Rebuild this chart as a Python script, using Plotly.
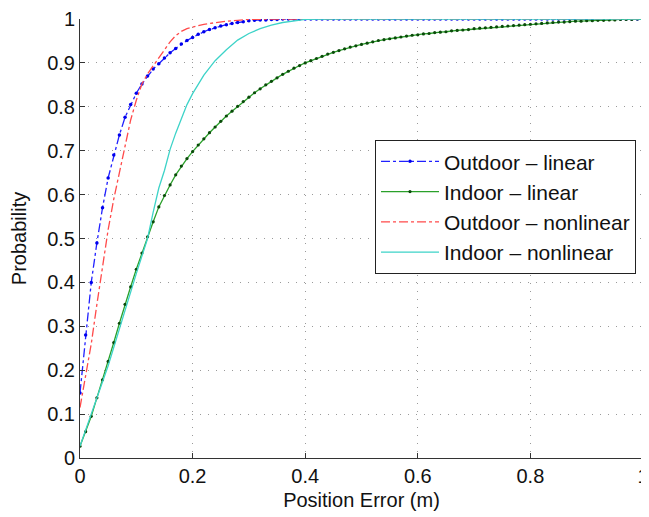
import plotly.graph_objects as go

# Outdoor - linear (sampled every 0.01 m)
outdoor_linear = [0.148, 0.28, 0.40, 0.49, 0.57, 0.638, 0.69, 0.736, 0.776, 0.805,
                  0.831, 0.852, 0.870, 0.886, 0.898, 0.911, 0.923, 0.933, 0.943, 0.951,
                  0.958, 0.965, 0.971, 0.976, 0.980, 0.984, 0.987, 0.990, 0.992, 0.994,
                  0.996, 0.997, 0.998, 0.998, 0.999, 0.999] + [1.0] * 65

# Indoor - linear (sampled every 0.01 m)
indoor_linear = [0.027, 0.06, 0.095, 0.137, 0.178, 0.22, 0.263, 0.307, 0.35, 0.39,
                 0.43, 0.467, 0.504, 0.538, 0.572, 0.598, 0.622, 0.645, 0.665, 0.682,
                 0.698, 0.713, 0.727, 0.741, 0.754, 0.767, 0.779, 0.790, 0.801, 0.812,
                 0.822, 0.832, 0.841, 0.850, 0.858, 0.866, 0.874, 0.881, 0.888, 0.894,
                 0.900, 0.905, 0.910, 0.915, 0.920, 0.924, 0.928, 0.932, 0.936, 0.939,
                 0.942, 0.945, 0.948, 0.951, 0.953, 0.955, 0.957, 0.959, 0.961, 0.963,
                 0.964, 0.966, 0.967, 0.969, 0.970, 0.971, 0.973, 0.974, 0.975, 0.976,
                 0.978, 0.979, 0.980, 0.981, 0.982, 0.983, 0.984, 0.985, 0.986, 0.987,
                 0.988, 0.989, 0.990, 0.991, 0.992, 0.993, 0.993, 0.994, 0.995, 0.995,
                 0.996, 0.996, 0.997, 0.997, 0.998, 0.998, 0.999, 0.999, 0.999, 1.0, 1.0]

grid_x = [round(i * 0.01, 2) for i in range(len(outdoor_linear))]
grid_x2 = [round(i * 0.01, 2) for i in range(len(indoor_linear))]

# Outdoor - nonlinear
on_x = [0.0, 0.01, 0.02, 0.03, 0.04, 0.05, 0.06, 0.07, 0.08, 0.09, 0.10, 0.11, 0.12,
        0.13, 0.14, 0.15, 0.16, 0.17, 0.18, 0.19, 0.20, 0.21, 0.22, 0.24, 0.26, 0.28,
        0.30, 0.35, 1.0]
on_y = [0.115, 0.19, 0.26, 0.35, 0.44, 0.52, 0.59, 0.65, 0.715, 0.77, 0.815, 0.852, 0.875,
        0.893, 0.91, 0.928, 0.948, 0.962, 0.972, 0.978, 0.982, 0.985, 0.988, 0.992, 0.995,
        0.997, 0.999, 1.0, 1.0]

# Indoor - nonlinear
inl_x = [0.0, 0.05, 0.10, 0.12, 0.13, 0.14, 0.15, 0.16, 0.17, 0.18, 0.19, 0.20, 0.22,
         0.24, 0.26, 0.28, 0.30, 0.32, 0.34, 0.36, 0.38, 0.40, 0.45, 1.0]
inl_y = [0.027, 0.21, 0.42, 0.50, 0.56, 0.615, 0.655, 0.703, 0.74, 0.772, 0.805, 0.83, 0.872,
         0.905, 0.93, 0.952, 0.967, 0.978, 0.986, 0.992, 0.996, 0.999, 1.0, 1.0]

tick_vals_x = [0, 0.2, 0.4, 0.6, 0.8, 1]
tick_text_x = ["0", "0.2", "0.4", "0.6", "0.8", "1"]
tick_vals_y = [0, 0.1, 0.2, 0.3, 0.4, 0.5, 0.6, 0.7, 0.8, 0.9, 1]
tick_text_y = ["0", "0.1", "0.2", "0.3", "0.4", "0.5", "0.6", "0.7", "0.8", "0.9", "1"]

FONT = "Liberation Sans, Arial, Helvetica, sans-serif"

fig = go.Figure()
fig.add_trace(go.Scatter(x=grid_x, y=outdoor_linear, mode="lines+markers",
                         name="Outdoor – linear",
                         line=dict(color="#2020ff", width=1.3, dash="dashdot"),
                         marker=dict(color="#0000ee", size=3.5)))
fig.add_trace(go.Scatter(x=grid_x2, y=indoor_linear, mode="lines+markers",
                         name="Indoor – linear",
                         line=dict(color="#2aa02a", width=1.3),
                         marker=dict(color="#0a4a0a", size=3.2)))
fig.add_trace(go.Scatter(x=on_x, y=on_y, mode="lines",
                         name="Outdoor – nonlinear",
                         line=dict(color="#ff4a4a", width=1.3, dash="dashdot")))
fig.add_trace(go.Scatter(x=inl_x, y=inl_y, mode="lines",
                         name="Indoor – nonlinear",
                         line=dict(color="#3dd3c8", width=1.3)))

GRID = dict(showgrid=True, gridcolor="#9a9a9a", griddash="1px,7px", gridwidth=1,
            showline=True, linecolor="#333", linewidth=1,
            ticks="inside", ticklen=5, tickcolor="#333",
            zeroline=False, automargin=False, ticklabeloverflow="allow",
            tickfont=dict(size=20, color="#111"))

# the page body has an 8px margin, so the figure is 641x509 and offset accordingly
fig.update_layout(
    width=641, height=509,
    margin=dict(l=72, r=6, t=11, b=59),
    paper_bgcolor="white", plot_bgcolor="white",
    font=dict(family=FONT, size=20, color="#111"),
    showlegend=True,
    legend=dict(x=0.524, y=0.724, xanchor="left", yanchor="top",
                bgcolor="white", bordercolor="#222", borderwidth=1,
                font=dict(size=21, color="#111"), itemwidth=58,
                tracegroupgap=0),
    xaxis=dict(range=[0, 1], tickvals=tick_vals_x, ticktext=tick_text_x,
               title=dict(text="Position Error (m)", font=dict(size=20), standoff=6),
               **GRID),
    yaxis=dict(range=[0, 1], tickvals=tick_vals_y, ticktext=tick_text_y,
               title=dict(text="Probability", font=dict(size=20), standoff=16),
               **GRID),
)

fig.write_html("out.html")
